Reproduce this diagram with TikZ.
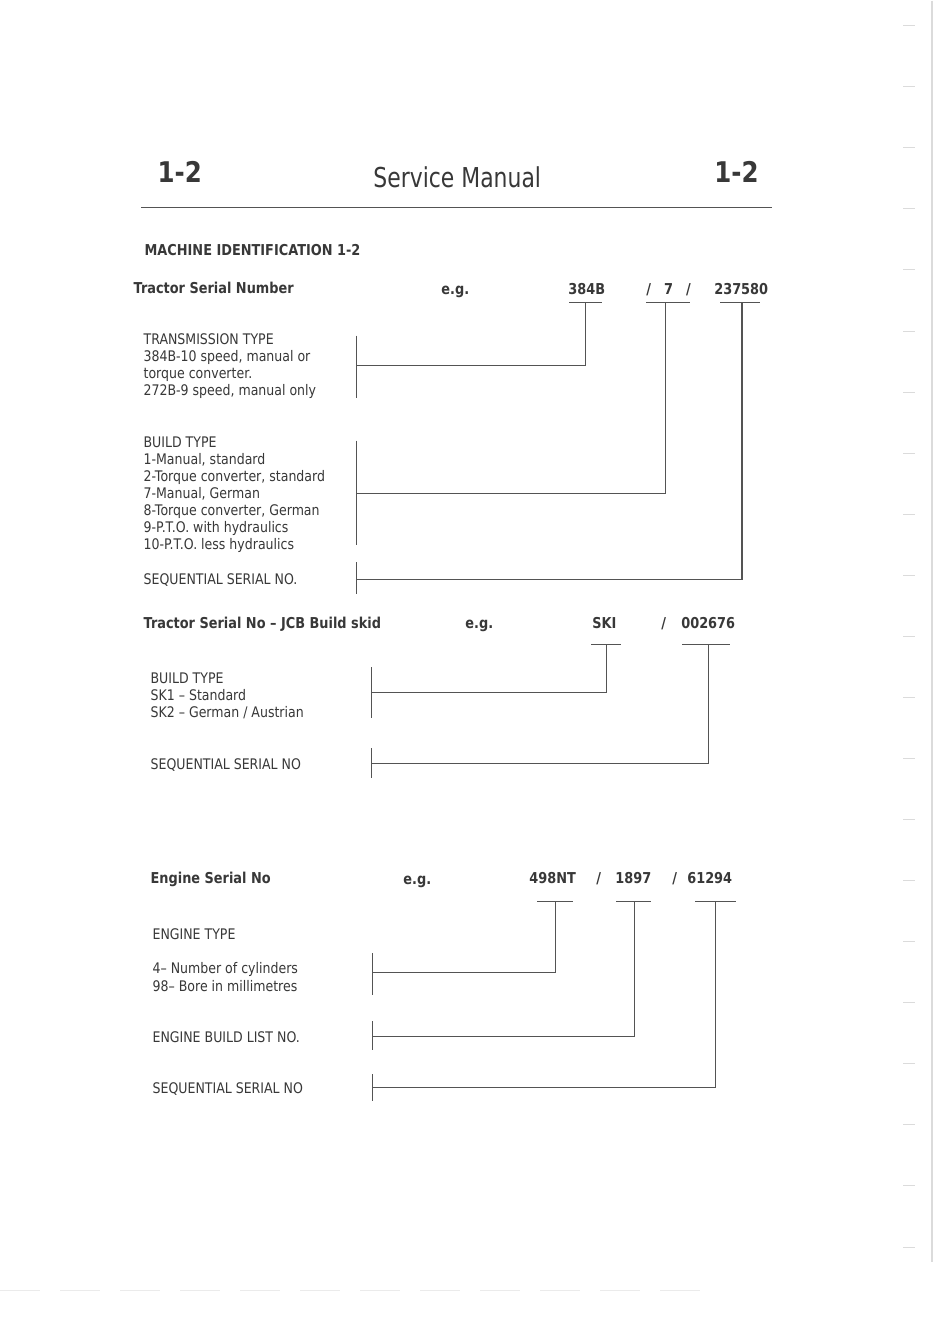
\documentclass[tikz,border=0pt]{standalone}
\usepackage{fontspec}
\setmainfont{DejaVu Sans}[FakeStretch=0.86]
\newfontfamily\titlefont{DejaVu Sans}[FakeStretch=0.8]
\definecolor{ink}{gray}{0.22}
\definecolor{wire}{gray}{0.33}
\definecolor{scan}{gray}{0.86}
\tikzset{
  txt/.style={anchor=north west,inner sep=0pt,align=left,text=ink,font=\fontsize{14.6}{17}\selectfont},
  head/.style={anchor=base west,inner sep=0pt,text=ink,font=\bfseries\fontsize{15}{18}\selectfont},
  big/.style={anchor=base west,inner sep=0pt,text=ink,font=\bfseries\fontsize{28.5}{30}\selectfont},
  link/.style={draw=wire,line width=1.2pt},
}

\begin{document}
\begin{tikzpicture}[x=1pt,y=-1pt]
\path[fill=white] (0,0) rectangle (935,1323);

% page heading
\node[big] (pageL) at (157,182) {1-2};
\node[big] (pageR) at (714,182) {1-2};
\node[anchor=base west,inner sep=0pt,text=ink,font=\titlefont\fontsize{27.4}{30}\selectfont] (title) at (373,187) {Service Manual};
\draw[link] (141,207) -- (772,207);

% tractor serial number
\node[head] (mid) at (144,255) {MACHINE IDENTIFICATION 1-2};
\node[head] (tsn) at (133,293) {Tractor Serial Number};
\node[head] (eg1) at (441,294) {e.g.};
\node[head] (c384) at (568,294) {384B};
\node[head] (c7) at (646,294) {/\hspace{13pt}7\hspace{13pt}/};
\node[head] (c237) at (714,294) {237580};

\node[txt] (trans) at (143,333) {TRANSMISSION TYPE\\384B-10 speed, manual or\\torque converter.\\272B-9 speed, manual only};
\node[txt] (build) at (143,436) {BUILD TYPE\\1-Manual, standard\\2-Torque converter, standard\\7-Manual, German\\8-Torque converter, German\\9-P.T.O. with hydraulics\\10-P.T.O. less hydraulics};
\node[txt] (seq1) at (143,573) {SEQUENTIAL SERIAL NO.};

\coordinate (u384) at (585,302);
\coordinate (u7) at (665,302);
\coordinate (u237) at (742,302);
\draw[link] (569,302) -- (602,302);
\draw[link] (646,302) -- (690,302);
\draw[link] (720,302) -- (760,302);

\coordinate (b384) at (356,365);
\coordinate (b7) at (356,493);
\coordinate (b237) at (356,579);
\draw[link] (356,335) -- (356,397);
\draw[link] (356,440) -- (356,545);
\draw[link] (356,562) -- (356,594);

\draw[link] (u384) |- (b384);
\draw[link] (u7) |- (b7);
\draw[link] (u237) |- (b237);

% build skid
\node[head] (tsk) at (143,628) {Tractor Serial No – JCB Build skid};
\node[head] (eg2) at (465,628) {e.g.};
\node[head] (cski) at (592,628) {SKI};
\node[head] (sl2) at (661,628) {/};
\node[head] (c002) at (681,628) {002676};

\node[txt] (skbuild) at (150,672) {BUILD TYPE\\SK1 – Standard\\SK2 – German / Austrian};
\node[txt] (seq2) at (150,758) {SEQUENTIAL SERIAL NO};

\coordinate (uski) at (606,644);
\coordinate (u002) at (708,644);
\draw[link] (591,644) -- (621,644);
\draw[link] (682,644) -- (730,644);

\coordinate (bski) at (371,692);
\coordinate (b002) at (371,763);
\draw[link] (371,667) -- (371,718);
\draw[link] (371,748) -- (371,778);

\draw[link] (uski) |- (bski);
\draw[link] (u002) |- (b002);

% engine serial number
\node[head] (esn) at (150,883) {Engine Serial No};
\node[head] (eg3) at (403,884) {e.g.};
\node[head] (c498) at (529,883) {498NT};
\node[head] (sl3a) at (596,883) {/};
\node[head] (c1897) at (615,883) {1897};
\node[head] (sl3b) at (672,883) {/};
\node[head] (c612) at (687,883) {61294};

\node[txt] (etype) at (152,928) {ENGINE TYPE};
\node[txt,font=\fontsize{14.6}{18}\selectfont] (ecyl) at (152,962) {4– Number of cylinders\\98– Bore in millimetres};
\node[txt] (elist) at (152,1031) {ENGINE BUILD LIST NO.};
\node[txt] (seq3) at (152,1082) {SEQUENTIAL SERIAL NO};

\coordinate (u498) at (555,901);
\coordinate (u1897) at (634,901);
\coordinate (u612) at (715,901);
\draw[link] (537,901) -- (573,901);
\draw[link] (616,901) -- (651,901);
\draw[link] (695,901) -- (736,901);

\coordinate (b498) at (372,972);
\coordinate (b1897) at (372,1036);
\coordinate (b612) at (372,1087);
\draw[link] (372,953) -- (372,995);
\draw[link] (372,1021) -- (372,1050);
\draw[link] (372,1074) -- (372,1101);

\draw[link] (u498) |- (b498);
\draw[link] (u1897) |- (b1897);
\draw[link] (u612) |- (b612);

% scanner marks at the edge
\foreach \k in {0,...,20}
  \draw[scan,line width=1pt] (903,{25+61.1*\k}) -- (915,{25+61.1*\k});
\draw[scan,line width=1.5pt] (932,0) -- (932,1262);
\draw[black!8,line width=1pt,dash pattern=on 40pt off 20pt] (0,1290) -- (700,1290);
\end{tikzpicture}
\end{document}
